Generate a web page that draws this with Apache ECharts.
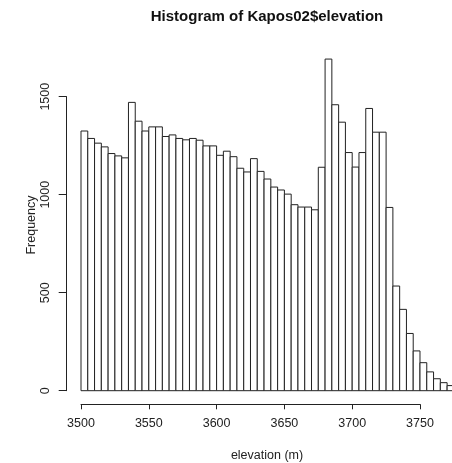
<!DOCTYPE html>
<html>
<head>
<meta charset="utf-8">
<script src="https://cdn.jsdelivr.net/npm/echarts@6/dist/echarts.min.js"></script>
<style>
  html, body { margin: 0; padding: 0; background: #fff; }
  #chart { width: 452px; height: 463px; }
</style>
</head>
<body>
<div id="chart"></div>
<script>
    // histogram counts, 5 m bins starting at 3500
    var binStart = 3500;
    var binWidth = 5;
    var counts = [
        1325, 1287, 1263, 1244, 1210, 1198, 1188, 1471, 1375, 1325,
        1346, 1346, 1297, 1305, 1287, 1280, 1287, 1278, 1249, 1249,
        1201, 1222, 1194, 1135, 1116, 1184, 1119, 1080, 1039, 1024,
        1003, 949, 937, 937, 923, 1140, 1692, 1459, 1370, 1215,
        1141, 1215, 1440, 1319, 1319, 935, 534, 415, 292, 203,
        143, 96, 61, 41, 26
    ];
    var xTicks = [3500, 3550, 3600, 3650, 3700, 3750];
    var yTicks = [0, 500, 1000, 1500];

    var bins = counts.map(function (c, i) {
        var lo = binStart + i * binWidth;
        return [lo, lo + binWidth, c];
    });

    var font = '"Liberation Sans", Arial, sans-serif';
    var plain = function (v) { return String(v); };
    var myChart = echarts.init(document.getElementById('chart'));

    var option = {
        animation: false,
        backgroundColor: '#fff',
        grid: [
            { left: 81, right: 0, top: 47.7, bottom: 72.3 },
            { left: 66.7, width: 10, top: 96.7, bottom: 72.3 },
            { left: 81, width: 339, bottom: 58.7, height: 10 }
        ],
        xAxis: [
            { type: 'value', gridIndex: 0, min: 3500, max: 3773.6, show: false },
            { type: 'value', gridIndex: 1, min: 0, max: 1, show: false },
            {
                type: 'value', gridIndex: 2,
                min: xTicks[0], max: xTicks[xTicks.length - 1], interval: 50,
                position: 'bottom',
                axisLine: { show: true, lineStyle: { color: '#222', width: 1 } },
                axisTick: { show: true, inside: false, length: 5, lineStyle: { color: '#222' } },
                axisLabel: { margin: 13, color: '#222', fontSize: 12.5, fontFamily: font, formatter: plain },
                splitLine: { show: false }
            }
        ],
        yAxis: [
            { type: 'value', gridIndex: 0, min: 0, max: 1750, show: false },
            {
                type: 'value', gridIndex: 1,
                min: yTicks[0], max: yTicks[yTicks.length - 1], interval: 500,
                position: 'left',
                axisLine: { show: true, lineStyle: { color: '#222', width: 1 } },
                axisTick: { show: true, inside: false, length: 8, lineStyle: { color: '#222' } },
                axisLabel: { rotate: 90, margin: 15, color: '#222', fontSize: 12.5, fontFamily: font, formatter: plain },
                splitLine: { show: false }
            },
            { type: 'value', gridIndex: 2, min: 0, max: 1, show: false }
        ],
        graphic: [
            {
                type: 'text', x: 267, y: 17,
                style: {
                    text: 'Histogram of Kapos02$elevation',
                    font: 'bold 15px ' + font, fill: '#111',
                    textAlign: 'center', textVerticalAlign: 'middle'
                }
            },
            {
                type: 'text', x: 267, y: 456,
                style: {
                    text: 'elevation (m)',
                    font: '12.5px ' + font, fill: '#222',
                    textAlign: 'center', textVerticalAlign: 'middle'
                }
            },
            {
                type: 'text', x: 32, y: 225, rotation: Math.PI / 2,
                style: {
                    text: 'Frequency',
                    font: '12.5px ' + font, fill: '#222',
                    textAlign: 'center', textVerticalAlign: 'middle'
                }
            }
        ],
        series: [{
            type: 'custom',
            xAxisIndex: 0,
            yAxisIndex: 0,
            clip: false,
            data: bins,
            encode: { x: [0, 1], y: 2 },
            renderItem: function (params, api) {
                var p0 = api.coord([api.value(0), 0]);
                var p1 = api.coord([api.value(1), api.value(2)]);
                return {
                    type: 'rect',
                    shape: { x: p0[0], y: p1[1], width: p1[0] - p0[0], height: p0[1] - p1[1] },
                    style: { fill: '#fff', stroke: '#222', lineWidth: 1 }
                };
            }
        }]
    };

    myChart.setOption(option);
</script>
</body>
</html>
